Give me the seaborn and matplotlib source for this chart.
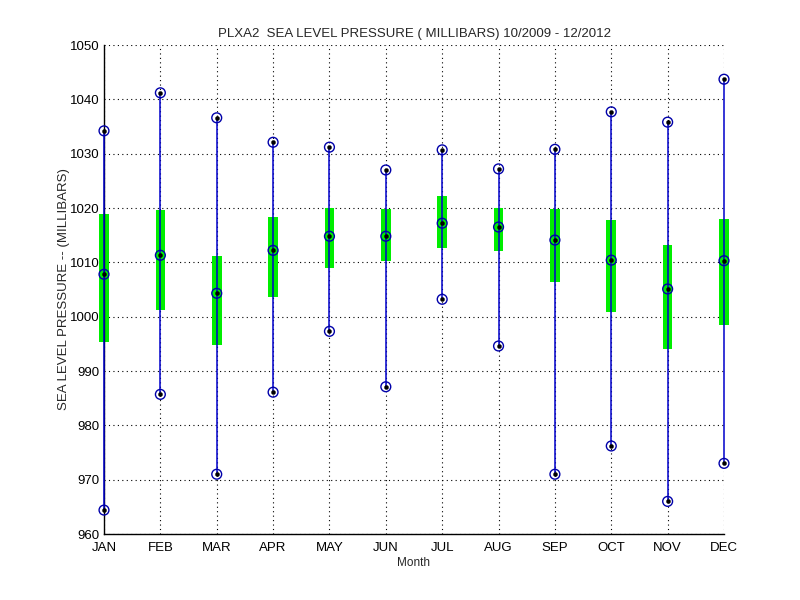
import pandas as pd
import matplotlib
matplotlib.use('Agg')
import matplotlib.pyplot as plt
import seaborn as sns

# datos (mb)
months = ['JAN', 'FEB', 'MAR', 'APR', 'MAY', 'JUN', 'JUL', 'AUG', 'SEP', 'OCT', 'NOV', 'DEC']
p_max = [1034.2, 1041.2, 1036.6, 1032.1, 1031.2, 1027.0, 1030.7, 1027.2, 1030.8, 1037.7, 1035.8, 1043.7]
p_min = [964.4, 985.7, 971.0, 986.1, 997.3, 987.1, 1003.2, 994.6, 971.0, 976.2, 966.0, 973.0]
p_med = [1007.8, 1011.3, 1004.3, 1012.2, 1014.8, 1014.8, 1017.2, 1016.5, 1014.1, 1010.4, 1005.1, 1010.3]
box_hi = [1018.9, 1019.7, 1011.2, 1018.4, 1020.0, 1019.9, 1022.2, 1020.0, 1019.9, 1017.8, 1013.2, 1018.0]
box_lo = [995.3, 1001.3, 994.7, 1003.7, 1008.9, 1010.3, 1012.7, 1012.0, 1006.3, 1000.9, 994.1, 998.4]

sns.set_style('white')
plt.rcParams['font.family'] = ['Liberation Sans', 'DejaVu Sans']

x = list(range(1, len(months) + 1))
df = pd.DataFrame({'x': x * 3, 'p': p_max + p_min + p_med})

fig = plt.figure(figsize=(8, 6), dpi=100)
ax = fig.add_axes([0.13, 0.11, 0.775, 0.815])

# barras verdes (rango intercuartil)
ax.bar(x, [h - l for h, l in zip(box_hi, box_lo)], bottom=box_lo, width=0.17,
       color='#00ee00', edgecolor='none', zorder=2, clip_on=False)
# lineas max-min
ax.vlines(x, p_min, p_max, color='#0000cc', lw=1.1, zorder=3, clip_on=False)
# marcadores
sns.scatterplot(data=df, x='x', y='p', ax=ax, marker='o', s=50, facecolor='none',
                edgecolor='#0000aa', linewidth=1.0, zorder=4, clip_on=False)
sns.scatterplot(data=df, x='x', y='p', ax=ax, marker='o', s=9, color='black',
                edgecolor='black', zorder=5, clip_on=False)

ax.set_xlim(1, 12)
ax.set_ylim(960, 1050)
ax.set_xticks(x)
ax.set_xticklabels(months)
ax.set_yticks(range(960, 1051, 10))
ax.grid(True, color='black', linestyle=(0, (1, 3)), lw=0.8)
ax.set_axisbelow(True)
for s in ['top', 'right']:
    ax.spines[s].set_visible(False)
for s in ['left', 'bottom']:
    ax.spines[s].set_color('black')
    ax.spines[s].set_linewidth(1.0)
ax.tick_params(direction='in', length=4, labelsize=9.5, colors='black', pad=3)
ax.tick_params(axis='x', pad=6)

ax.set_title('PLXA2  SEA LEVEL PRESSURE ( MILLIBARS) 10/2009 - 12/2012', fontsize=9.5, pad=6)
ax.set_xlabel('Month', fontsize=8.5, labelpad=2)
ax.set_ylabel('SEA LEVEL PRESSURE -- (MILLIBARS)', fontsize=9.5, labelpad=0)

plt.savefig('out.png', dpi=100)
